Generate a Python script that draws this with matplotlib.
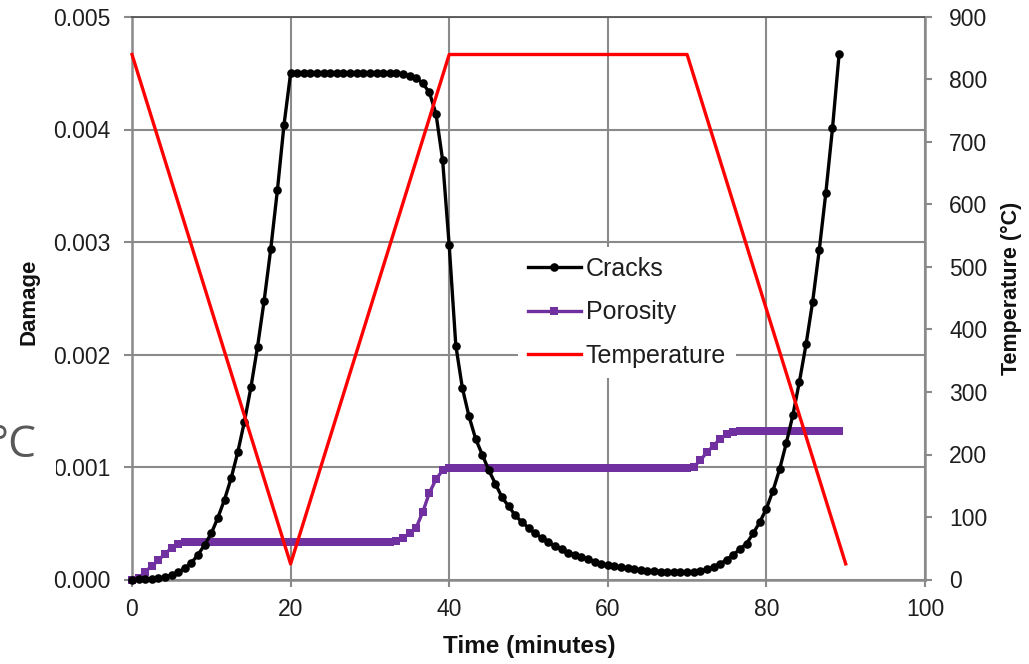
import numpy as np
import matplotlib
matplotlib.use("Agg")
import matplotlib.pyplot as plt
from matplotlib.lines import Line2D
from matplotlib.patches import Rectangle
from matplotlib.ticker import FormatStrFormatter

plt.rcParams['font.family'] = ['Liberation Sans', 'DejaVu Sans']

# ---------------- data ----------------
TIME_STEP_MIN = 5.0 / 6.0   # sampling step of the damage series (minutes)

CRACKS = [
    0.0, 0.0000001, 0.0000008, 0.000003, 0.000009, 0.00002, 0.000037, 0.000063,
    0.0001, 0.00015, 0.00022, 0.00031, 0.00041, 0.00055, 0.00071, 0.0009,
    0.00113, 0.0014, 0.00171, 0.00207, 0.00248, 0.00294, 0.00346, 0.00404,
    0.0045, 0.0045, 0.0045, 0.0045, 0.0045, 0.0045, 0.0045, 0.0045,
    0.0045, 0.0045, 0.0045, 0.0045, 0.0045, 0.0045, 0.0045, 0.0045, 0.0045,
    0.00449, 0.00448, 0.00446, 0.00441, 0.00433, 0.00414, 0.00373, 0.00297,
    0.00208, 0.0017, 0.00145, 0.00125, 0.00111,
    0.00097, 0.00085, 0.00073, 0.00065, 0.00057, 0.00051, 0.00046, 0.00041,
    0.00037, 0.00033, 0.0003, 0.00027, 0.00024, 0.00022, 0.0002, 0.00018,
    0.00016, 0.00014,
    0.000126, 0.000116, 0.000107, 0.000099, 0.000091, 0.000084, 0.000079,
    0.000075, 0.000071, 0.000068, 0.000065, 0.000064, 0.000064, 0.000068,
    0.000076, 0.00009, 0.00011, 0.00014,
    0.000175, 0.00022, 0.00027, 0.00032, 0.00041, 0.00051, 0.00063, 0.00079,
    0.00098, 0.00121, 0.00146, 0.00176, 0.00209, 0.00247, 0.00293, 0.00344,
    0.00401, 0.00467,
]

POROSITY = [
    0.0, 0.00001, 0.00007, 0.00012, 0.00017, 0.00023, 0.00028, 0.00032, 0.00033,
    0.00033, 0.00033, 0.00033, 0.00033, 0.00033, 0.00033, 0.00033, 0.00033,
    0.00033, 0.00033, 0.00033, 0.00033, 0.00033, 0.00033, 0.00033, 0.00033,
    0.00033, 0.00033, 0.00033, 0.00033, 0.00033, 0.00033, 0.00033, 0.00033,
    0.00033, 0.00033, 0.00033, 0.00033, 0.00033, 0.00033, 0.00033,
    0.00034, 0.00037, 0.00041, 0.00046, 0.0006, 0.00077, 0.00089, 0.00097, 0.00099,
    0.00099, 0.00099, 0.00099, 0.00099, 0.00099, 0.00099, 0.00099, 0.00099,
    0.00099, 0.00099, 0.00099, 0.00099, 0.00099, 0.00099, 0.00099, 0.00099,
    0.00099, 0.00099, 0.00099, 0.00099, 0.00099, 0.00099, 0.00099, 0.00099,
    0.00099, 0.00099, 0.00099, 0.00099, 0.00099, 0.00099, 0.00099, 0.00099,
    0.00099, 0.00099, 0.00099, 0.00099,
    0.001, 0.00106, 0.00113, 0.00119, 0.00125, 0.00129, 0.00131, 0.00132,
    0.00132, 0.00132, 0.00132, 0.00132, 0.00132, 0.00132, 0.00132, 0.00132,
    0.00132, 0.00132, 0.00132, 0.00132, 0.00132, 0.00132, 0.00132,
]

TEMP_TIME = [0, 20, 40, 70, 90]
TEMP_VALUES = [840, 25, 840, 840, 25]

X_TICKS = [0, 20, 40, 60, 80, 100]
DAMAGE_TICKS = [0.0, 0.001, 0.002, 0.003, 0.004, 0.005]
TEMP_TICKS = [0, 100, 200, 300, 400, 500, 600, 700, 800, 900]

SERIES_LABELS = ["Cracks", "Porosity", "Temperature"]

# ---------------- figure ----------------
W, H = 1029, 664
fig = plt.figure(figsize=(W / 100, H / 100), dpi=100)
fig.patch.set_facecolor('white')

left, right, top, bottom = 132, 925, 17, 579.5
ax = fig.add_axes([left / W, 1 - bottom / H, (right - left) / W, (bottom - top) / H])

t_damage = np.arange(len(CRACKS)) * TIME_STEP_MIN

GRID_C = '#8a8a8a'
TICK_TXT = '#1e1e1e'
BLACK = '#000000'
PURPLE = '#7030A0'
RED = '#FF0000'

ax.set_xlim(0, 100)
ax.set_ylim(0, 0.005)
ax.set_xticks(X_TICKS)
ax.set_yticks(DAMAGE_TICKS)
ax.yaxis.set_major_formatter(FormatStrFormatter('%.3f'))
ax.grid(True, color=GRID_C, linewidth=1.5)
ax.set_axisbelow(True)

ax.plot(t_damage, POROSITY, color=PURPLE, lw=2.4, marker='s', ms=5.2,
        markeredgewidth=0, clip_on=False, zorder=3)
ax.plot(t_damage, CRACKS, color=BLACK, lw=2.4, marker='o', ms=6.2,
        markeredgewidth=0, clip_on=False, zorder=4)

for s in ['left', 'bottom', 'right']:
    ax.spines[s].set_color(GRID_C)
    ax.spines[s].set_linewidth(1.8)
ax.spines['top'].set_color('#555555')
ax.spines['top'].set_linewidth(1.3)

ax.tick_params(axis='y', direction='out', length=6, width=1.5, color=GRID_C,
               labelsize=16.5, labelcolor=TICK_TXT, pad=9.5)
ax.tick_params(axis='x', direction='out', length=5, width=1.5, color=GRID_C,
               labelsize=16.5, labelcolor=TICK_TXT, pad=8)

ax2 = ax.twinx()
ax2.set_ylim(0, 900)
ax2.set_yticks(TEMP_TICKS)
ax2.plot(TEMP_TIME, TEMP_VALUES, color=RED, lw=2.4, clip_on=False, zorder=5)
for s in ['left', 'bottom', 'right', 'top']:
    ax2.spines[s].set_visible(False)
ax2.tick_params(axis='y', direction='out', length=5, width=1.5, color=GRID_C,
                labelsize=16.5, labelcolor=TICK_TXT, pad=12.5)

# axis titles
fig.text(529 / W, 1 - 647 / H, "Time (minutes)", ha='center', va='center',
         fontsize=17.5, fontweight='bold', color='#111111')
fig.text(29 / W, 1 - 302 / H, "Damage", ha='center', va='center', rotation=90,
         fontsize=16, fontweight='bold', color='#111111')
fig.text(1011 / W, 1 - 288 / H, "Temperature (°C)", ha='center', va='center',
         rotation=90, fontsize=15.5, fontweight='bold', color='#111111')

# legend
handles = [
    Line2D([], [], color=BLACK, lw=2.4, marker='o', ms=6.2, markeredgewidth=0),
    Line2D([], [], color=PURPLE, lw=2.4, marker='s', ms=5.2, markeredgewidth=0),
    Line2D([], [], color=RED, lw=2.4),
]
leg = ax2.legend(handles, SERIES_LABELS, loc='upper left',
                 bbox_to_anchor=(518 / W, 1 - 247 / H), bbox_transform=fig.transFigure,
                 fontsize=18, frameon=True, fancybox=False, framealpha=1,
                 borderpad=0.4, borderaxespad=0, handlelength=2.1,
                 handletextpad=0.2, labelspacing=0.78, numpoints=1)
leg.get_frame().set_facecolor('white')
leg.get_frame().set_edgecolor('none')
for txt in leg.get_texts():
    txt.set_color('#1e1e1e')

# pasted overlay fragment at the left edge
fig.add_artist(Rectangle((0, 1 - 492 / H), 56 / W, 87 / H, transform=fig.transFigure,
                         facecolor='white', edgecolor='none', zorder=10))
fig.text(36 / W, 1 - 457 / H, "°C", ha='right', va='baseline', fontsize=32,
         family=['Open Sans', 'DejaVu Sans'], color='#595959', zorder=11)

fig.savefig("out.png", dpi=100, facecolor='white')
